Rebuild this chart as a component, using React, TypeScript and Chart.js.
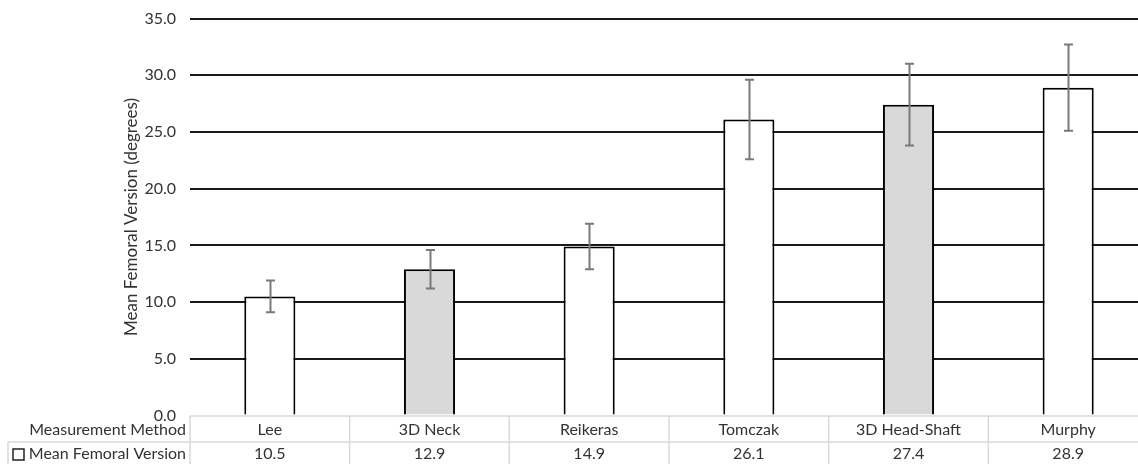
import React, { useEffect, useRef } from "react";
import { Chart, registerables } from "chart.js";

Chart.register(...registerables);

const categories = ["Lee", "3D Neck", "Reikeras", "Tomczak", "3D Head-Shaft", "Murphy"];
const meanVersion = [10.5, 12.9, 14.9, 26.1, 27.4, 28.9];
const errorSD = [1.4, 1.7, 2.0, 3.5, 3.6, 3.8];
const barFills = ["#ffffff", "#d9d9d9", "#ffffff", "#ffffff", "#d9d9d9", "#ffffff"];
const yMin = 0;
const yMax = 35;
const yStep = 5;
const axisTitle = "Mean Femoral Version (degrees)";
const tableRowLabels = ["Measurement Method", "Mean Femoral Version"];

const FONT = "Lato";
const FONT_SIZE = 16;
const TEXT = "#333333";

const errorBarPlugin = {
  id: "errorBars",
  afterDatasetsDraw(chart: any) {
    const ctx = chart.ctx;
    const meta = chart.getDatasetMeta(0);
    const ys = chart.scales.y;
    ctx.save();
    ctx.strokeStyle = "#7a7a7a";
    ctx.lineWidth = 2;
    meta.data.forEach((bar: any, i: number) => {
      const v = meanVersion[i];
      const e = errorSD[i];
      const x = Math.round(bar.x) + 0.5;
      const yt = ys.getPixelForValue(v + e);
      const yb = ys.getPixelForValue(v - e);
      ctx.beginPath();
      ctx.moveTo(x, yt);
      ctx.lineTo(x, yb);
      ctx.moveTo(x - 4.5, yt);
      ctx.lineTo(x + 4.5, yt);
      ctx.moveTo(x - 4.5, yb);
      ctx.lineTo(x + 4.5, yb);
      ctx.stroke();
    });
    ctx.restore();
  },
};

const dataTablePlugin = {
  id: "dataTable",
  afterDraw(chart: any) {
    const ctx = chart.ctx;
    const { left, right } = chart.chartArea;
    const n = categories.length;
    const colW = (right - left) / n;
    const row1Top = 416;
    const row2Top = 442;
    const bottom = 470;
    ctx.save();
    ctx.strokeStyle = "#d9d9d9";
    ctx.lineWidth = 1.5;
    ctx.beginPath();
    ctx.moveTo(left, row1Top);
    ctx.lineTo(right + 5, row1Top);
    ctx.moveTo(8, row2Top);
    ctx.lineTo(right + 5, row2Top);
    ctx.moveTo(8, row2Top);
    ctx.lineTo(8, bottom);
    for (let k = 0; k <= n; k++) {
      const x = left + k * colW;
      ctx.moveTo(x, row1Top);
      ctx.lineTo(x, bottom);
    }
    ctx.stroke();

    ctx.fillStyle = TEXT;
    ctx.font = `${FONT_SIZE}px ${FONT}`;
    ctx.textBaseline = "middle";
    ctx.textAlign = "center";
    categories.forEach((c, i) => {
      const cx = left + (i + 0.5) * colW;
      ctx.fillText(c, cx, 430);
      ctx.fillText(meanVersion[i].toFixed(1), cx, 454);
    });
    ctx.textAlign = "right";
    ctx.fillText(tableRowLabels[0], 186, 430);
    ctx.fillText(tableRowLabels[1], 186, 454);

    ctx.fillStyle = "#ffffff";
    ctx.fillRect(13, 449, 11, 11);
    ctx.strokeStyle = "#222";
    ctx.lineWidth = 1.5;
    ctx.strokeRect(13, 449, 11, 11);
    ctx.restore();
  },
};

export default function App() {
  const ref = useRef<HTMLCanvasElement | null>(null);

  useEffect(() => {
    document.body.style.margin = "0";
    const canvas = ref.current;
    if (!canvas) return;
    const chart = new Chart(canvas, {
      type: "bar",
      data: {
        labels: categories,
        datasets: [
          {
            label: tableRowLabels[1],
            data: meanVersion,
            backgroundColor: barFills,
            borderColor: "#000000",
            borderWidth: 2,
            borderSkipped: "bottom",
            barPercentage: 0.32,
            categoryPercentage: 1.0,
          },
        ],
      },
      options: {
        responsive: false,
        animation: false,
        layout: { padding: { left: 0, right: 2, top: 18.5, bottom: 48.5 } },
        plugins: {
          legend: { display: false },
          tooltip: { enabled: false },
        },
        scales: {
          x: {
            display: false,
          },
          y: {
            min: yMin,
            max: yMax,
            afterFit: (s: any) => {
              s.width = 190;
            },
            border: { display: false },
            grid: {
              drawTicks: true,
              tickLength: 14,
              tickColor: "rgba(0,0,0,0)",
              lineWidth: 2,
              color: (c: any) => (c.tick && c.tick.value === 0 ? "rgba(0,0,0,0)" : "#1a1a1a"),
            },
            ticks: {
              stepSize: yStep,
              padding: 0,
              color: TEXT,
              font: { family: FONT, size: FONT_SIZE },
              callback: (v: any) => Number(v).toFixed(1),
            },
            title: {
              display: true,
              text: axisTitle,
              color: TEXT,
              font: { family: FONT, size: FONT_SIZE + 1 },
              padding: { top: 121, bottom: 0 },
            },
          },
        },
      },
      plugins: [errorBarPlugin, dataTablePlugin],
    });
    return () => chart.destroy();
  }, []);

  return (
    <div style={{ width: 1138, height: 464, overflow: "hidden", position: "relative", background: "#fff" }}>
      <canvas ref={ref} width={1150} height={464} style={{ display: "block" }} />
    </div>
  );
}
